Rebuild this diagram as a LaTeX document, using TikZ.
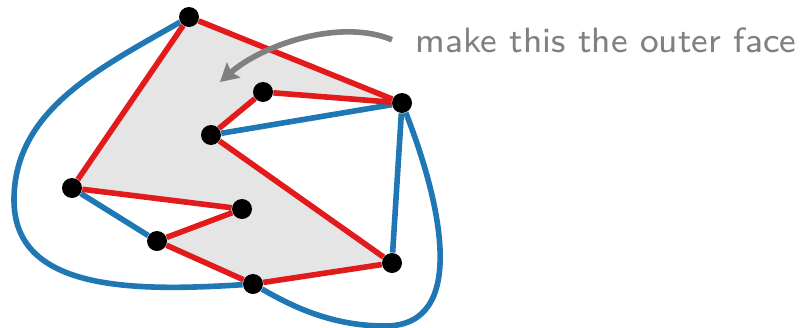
\documentclass[tikz,border=0pt]{standalone}
\usetikzlibrary{arrows.meta}
\definecolor{EdgeRed}{HTML}{E31A1C}
\definecolor{EdgeBlue}{HTML}{1F77B4}
\definecolor{FaceGray}{HTML}{E5E5E5}
\definecolor{NoteGray}{HTML}{808080}
\pgfdeclarelayer{face}
\pgfdeclarelayer{edges}
\pgfsetlayers{face,edges,main}

\begin{document}
\begin{tikzpicture}[x=0.5pt,y=-0.5pt,>={Stealth[length=9pt,width=10pt,inset=1.5pt]},
  vertex/.style={circle,fill=black,inner sep=0pt,minimum size=10pt},
  redge/.style={EdgeRed,line width=2.8pt},
  bedge/.style={EdgeBlue,line width=2.8pt},
  note/.style={NoteGray,font=\fontsize{8}{9.6}\selectfont\sffamily,scale=2.2,inner sep=0pt,anchor=base west}]
  \useasboundingbox (0,0) rectangle (803,327);

  % vertices of the embedding
  \node[vertex] (a) at (189,17) {};
  \node[vertex] (b) at (263,92) {};
  \node[vertex] (c) at (402,103) {};
  \node[vertex] (d) at (211,135) {};
  \node[vertex] (e) at (72,188) {};
  \node[vertex] (f) at (242,209) {};
  \node[vertex] (g) at (157,241) {};
  \node[vertex] (h) at (392,263) {};
  \node[vertex] (i) at (253,284) {};

  % the face that becomes the outer one
  \begin{pgfonlayer}{face}
    \fill[FaceGray] (a.center) -- (c.center) -- (b.center) -- (d.center) -- (h.center)
      -- (i.center) -- (g.center) -- (f.center) -- (e.center) -- cycle;
  \end{pgfonlayer}

  \begin{pgfonlayer}{edges}
    \draw[bedge] (d) -- (c);
    \draw[bedge] (c) -- (h);
    \draw[bedge] (e) -- (g);
    \draw[bedge] (a) .. controls (100,68) and (14,110) .. (14,200)
      .. controls (14,290) and (130,292) .. (i);
    \draw[bedge] (c) .. controls (440,200) and (470,326) .. (385,326)
      .. controls (330,326) and (290,305) .. (i);

    \draw[redge] (a) -- (c) -- (b) -- (d) -- (h) -- (i) -- (g) -- (f) -- (e) -- (a);
  \end{pgfonlayer}

  \node[note] (label) at (415,52) {make this the outer face};
  \coordinate (hint) at (220,82);
  \draw[->,NoteGray,line width=2.8pt] ([xshift=-11.5pt]label.west)
    .. controls (340,18) and (262,45) .. (hint);
\end{tikzpicture}
\end{document}
